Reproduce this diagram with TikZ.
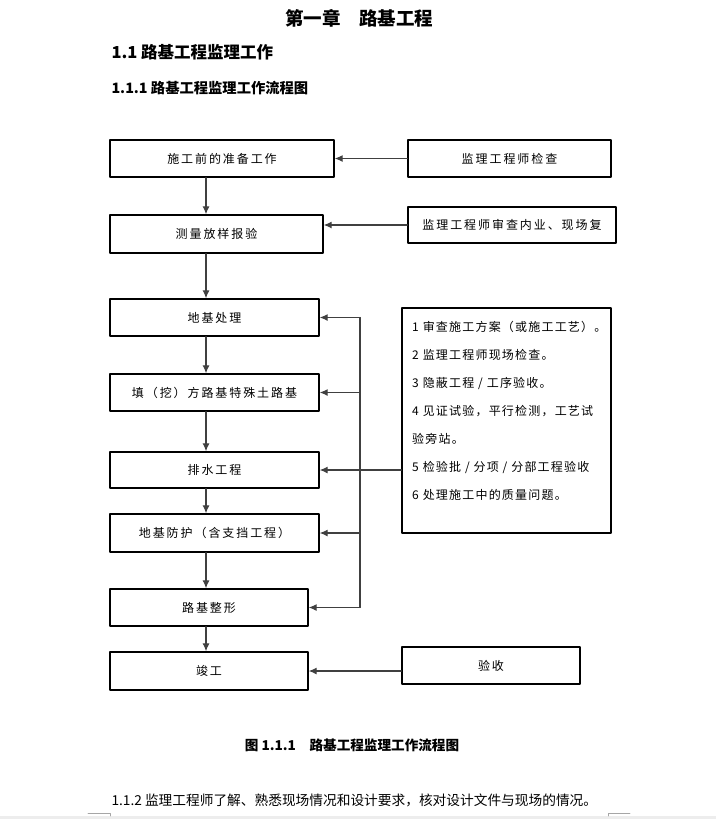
\documentclass[tikz,border=0pt]{standalone}
\usepackage{fontspec}
\setmainfont{Noto Sans CJK SC}
\newfontfamily\cjk{Noto Sans CJK SC}
\usetikzlibrary{arrows.meta}

\tikzset{
  stepbox/.style={draw=black,line width=1.4pt,rectangle,inner sep=0pt,
    font={\cjk\fontsize{12}{14}\selectfont\addfontfeature{LetterSpace=16}}},
  arr/.style={-{Latex[length=8pt,width=7pt]},line width=1.1pt,color=black!75},
  feed/.style={line width=1.1pt,color=black!75}
}

\begin{document}
\begin{tikzpicture}[line cap=round,line join=round,x=1pt,y=-1pt]
				\useasboundingbox (0,0) rectangle (716,819);
				%% headings
				\node[font={\cjk\bfseries\fontsize{18.5}{20}\selectfont}] (chap) at (359,18) {第一章　路基工程};
				\node[anchor=west,font={\cjk\bfseries\fontsize{16.5}{18}\selectfont}] (sec) at (108,52) {1.1 路基工程监理工作};
				\node[anchor=west,font={\cjk\bfseries\fontsize{14.3}{16}\selectfont}] (subsec) at (108,88) {1.1.1 路基工程监理工作流程图};
				%% main column
				\node[stepbox,minimum width=224pt,minimum height=37pt] (prep) at (222,158.5) {施工前的准备工作};
				\node[stepbox,minimum width=213pt,minimum height=38pt] (survey) at (216.5,234) {测量放样报验};
				\node[stepbox,minimum width=209pt,minimum height=37pt] (found) at (214.5,317.5) {地基处理};
				\node[stepbox,minimum width=209pt,minimum height=37pt] (fill) at (214.5,392.5) {填（挖）方路基特殊土路基};
				\node[stepbox,minimum width=209pt,minimum height=36pt] (drain) at (214.5,470) {排水工程};
				\node[stepbox,minimum width=209pt,minimum height=38pt] (protect) at (214.5,533) {地基防护（含支挡工程）};
				\node[stepbox,minimum width=198pt,minimum height=37pt] (shape) at (209,607.5) {路基整形};
				\node[stepbox,minimum width=198pt,minimum height=38pt] (finish) at (209,671) {竣工};
				%% right column
				\node[stepbox,minimum width=203pt,minimum height=37pt] (check) at (509.5,158.5) {监理工程师检查};
				\node[stepbox,minimum width=208pt,minimum height=36pt] (review) at (512,225) {监理工程师审查内业、现场复};
				\node[stepbox,minimum width=178pt,minimum height=37pt] (accept) at (491,665.5) {验收};
				\node[stepbox,minimum width=209pt,minimum height=225pt] (notes) at (506.5,420.5) {};
				\node[anchor=north west,inner sep=0pt,align=left,
				  font={\cjk\fontsize{12}{28}\selectfont\addfontfeature{LetterSpace=10}}] (notetext) at (412,321)
				  {1 审查施工方案（或施工工艺）。\\2 监理工程师现场检查。\\3 隐蔽工程 / 工序验收。\\4 见证试验，平行检测，工艺试\\验旁站。\\5 检验批 / 分项 / 分部工程验收\\6 处理施工中的质量问题。};
				\coordinate (spine) at (206,0);
				\coordinate (bus) at (360,0);
				%% flow down
				\draw[arr] (prep.south -| spine) -- (survey.north -| spine);
				\draw[arr] (survey.south -| spine) -- (found.north -| spine);
				\draw[arr] (found.south -| spine) -- (fill.north -| spine);
				\draw[arr] (fill.south -| spine) -- (drain.north -| spine);
				\draw[arr] (drain.south -| spine) -- (protect.north -| spine);
				\draw[arr] (protect.south -| spine) -- (shape.north -| spine);
				\draw[arr] (shape.south -| spine) -- (finish.north -| spine);
				%% supervision inputs
				\draw[arr] (check.west) -- (prep.east);
				\draw[arr] (review.west) -- (survey.east |- review.west);
				\draw[arr] (accept.west |- finish.east) -- (finish.east);
				\draw[arr] (notes.west |- drain.east) -- (drain.east);
				\draw[feed] (found.east -| bus) -- (shape.east -| bus);
				\foreach \b in {found,fill,protect,shape}
				  \draw[arr] (\b.east -| bus) -- (\b.east);
				%% caption and text below
				\node[font={\cjk\bfseries\fontsize{13.6}{15}\selectfont}] (caption) at (352,745) {图 1.1.1　路基工程监理工作流程图};
				\node[anchor=west,font={\cjk\fontsize{13.7}{16}\selectfont}] (para) at (108,800) {1.1.2 监理工程师了解、熟悉现场情况和设计要求，核对设计文件与现场的情况。};
				%% page edge
				\fill[black!7] (0,816) rectangle (716,819);
				\draw[black!35,line width=0.8pt] (88,813) -- (110,813) -- (110,816);
				\draw[black!35,line width=0.8pt] (630,813) -- (608,813) -- (608,816);
			\end{tikzpicture}
\end{document}
